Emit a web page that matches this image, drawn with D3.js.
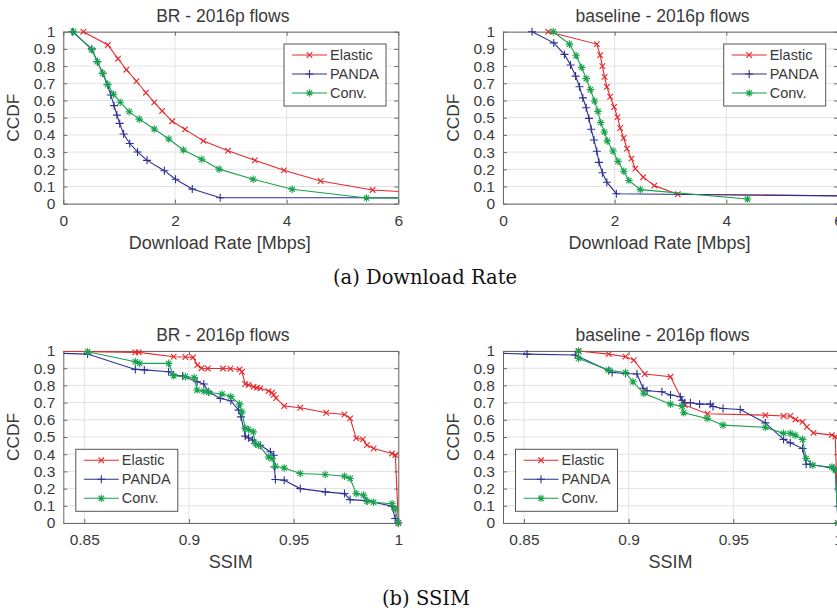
<!DOCTYPE html>
<html>
<head>
<meta charset="utf-8">
<script src="https://d3js.org/d3.v7.min.js"></script>
<style>
  body { margin: 0; background: #fff; }
  svg text { font-family: 'Liberation Sans', Arial, sans-serif; fill: #3a3a3a; }
  svg text.caption { font-family: 'DejaVu Serif', serif; fill: #111; }
</style>
<title>CCDF panels</title>
</head>
<body>
<svg id="fig" width="837" height="614"></svg>
<script>
// ---- tick labels ----
var ccdfTicks = [0, 0.1, 0.2, 0.3, 0.4, 0.5, 0.6, 0.7, 0.8, 0.9, 1];
var rateTicks = [0, 2, 4, 6];
var ssimTicks = [0.85, 0.9, 0.95, 1];

var seriesNames = ["Elastic", "PANDA", "Conv."];

// ---- download rate, BR (x = Mbps, y = CCDF) ----
var brRateElastic = [[0.36,1.0],[0.8,0.923],[0.98,0.843],[1.13,0.779],[1.31,0.712],[1.48,0.645],[1.63,0.589],
  [1.77,0.539],[1.95,0.479],[2.18,0.432],[2.51,0.365],[2.95,0.308],[3.43,0.252],[3.95,0.194],[4.61,0.132],
  [5.54,0.08],[7.0,0.052]];
var brRatePanda = [[0.16,1.0],[0.51,0.9],[0.61,0.826],[0.705,0.758],[0.79,0.692],[0.85,0.632],[0.91,0.57],
  [0.96,0.515],[1.01,0.467],[1.08,0.405],[1.19,0.35],[1.33,0.301],[1.5,0.252],[1.81,0.192],[2.01,0.142],
  [2.31,0.085],[2.81,0.035],[7.0,0.035]];
var brRateConv = [[0.18,1.0],[0.51,0.894],[0.61,0.826],[0.705,0.758],[0.795,0.694],[0.9,0.636],[1.02,0.59],
  [1.18,0.535],[1.36,0.492],[1.63,0.434],[1.89,0.376],[2.15,0.312],[2.48,0.258],[2.79,0.201],[3.4,0.142],
  [4.1,0.084],[5.43,0.033],[7.0,0.031]];

// ---- download rate, baseline ----
var baseRateElastic = [[0.81,1.0],[1.68,0.928],[1.74,0.864],[1.78,0.8],[1.82,0.737],[1.86,0.679],[1.92,0.622],
  [1.99,0.562],[2.05,0.503],[2.1,0.44],[2.16,0.382],[2.22,0.32],[2.3,0.262],[2.37,0.204],[2.51,0.154],
  [2.71,0.105],[3.13,0.055],[7.0,0.043]];
var baseRatePanda = [[0.52,1.0],[0.91,0.935],[1.1,0.868],[1.21,0.806],[1.3,0.742],[1.37,0.68],[1.43,0.615],
  [1.49,0.558],[1.54,0.496],[1.58,0.433],[1.63,0.37],[1.68,0.305],[1.72,0.24],[1.78,0.18],[1.86,0.125],
  [2.03,0.058],[7.0,0.042]];
var baseRateConv = [[0.9,1.0],[1.19,0.928],[1.31,0.86],[1.41,0.792],[1.49,0.727],[1.565,0.663],[1.64,0.597],
  [1.7,0.537],[1.75,0.472],[1.815,0.417],[1.867,0.365],[1.97,0.306],[2.06,0.246],[2.163,0.189],[2.255,0.135],
  [2.46,0.082],[4.38,0.027]];

// ---- SSIM, BR ----
var brSsimElastic = [[0.83,1.0],[0.8744,0.992],[0.876,0.992],[0.8927,0.967],[0.8983,0.965],[0.902,0.963],
  [0.904,0.918],[0.906,0.9],[0.909,0.898],[0.9163,0.898],[0.9198,0.897],[0.9242,0.893],[0.9253,0.879],
  [0.9269,0.808],[0.9285,0.803],[0.9309,0.792],[0.9325,0.787],[0.9341,0.783],[0.938,0.767],[0.9397,0.757],
  [0.9405,0.745],[0.9416,0.726],[0.9455,0.68],[0.9532,0.67],[0.9656,0.641],[0.9743,0.631],[0.977,0.608],
  [0.9799,0.492],[0.9831,0.486],[0.985,0.453],[0.9882,0.433],[0.997,0.404],[0.9986,0.395],[1.0,0]];
var brSsimPanda = [[0.83,0.99],[0.8516,0.982],[0.8744,0.893],[0.8787,0.89],[0.8903,0.879],[0.8927,0.86],
  [0.897,0.855],[0.9039,0.821],[0.9071,0.808],[0.9094,0.763],[0.915,0.724],[0.92,0.711],[0.9237,0.656],
  [0.9249,0.617],[0.9269,0.505],[0.9285,0.495],[0.9304,0.482],[0.9317,0.462],[0.9341,0.452],[0.9389,0.414],
  [0.9405,0.394],[0.9408,0.326],[0.9413,0.253],[0.9455,0.249],[0.9532,0.2],[0.9651,0.181],[0.9743,0.171],
  [0.977,0.136],[0.985,0.13],[0.997,0.097],[0.9985,0.026],[1.0,0]];
var brSsimConv = [[0.8516,0.996],[0.8744,0.938],[0.8765,0.928],[0.8903,0.928],[0.8927,0.856],[0.8983,0.851],
  [0.9025,0.845],[0.9039,0.773],[0.9071,0.767],[0.9094,0.759],[0.9158,0.75],[0.92,0.735],[0.9242,0.691],
  [0.9253,0.646],[0.9269,0.55],[0.9285,0.544],[0.9307,0.53],[0.9317,0.462],[0.9333,0.452],[0.938,0.384],
  [0.9397,0.375],[0.9413,0.33],[0.9455,0.32],[0.9532,0.288],[0.9651,0.282],[0.9743,0.272],[0.977,0.259],
  [0.9799,0.171],[0.9834,0.162],[0.985,0.127],[0.9882,0.121],[0.997,0.112],[0.9985,0.081],[1.0,0]];

// ---- SSIM, baseline ----
var baseSsimElastic = [[0.8761,1.0],[0.8905,0.982],[0.8985,0.967],[0.9025,0.947],[0.9077,0.866],[0.92,0.85],
  [0.9268,0.685],[0.9377,0.635],[0.9653,0.627],[0.974,0.622],[0.9772,0.622],[0.9797,0.602],[0.9831,0.588],
  [0.9851,0.559],[0.9883,0.524],[0.9971,0.511],[0.9987,0.502],[1.0,0]];
var baseSsimPanda = [[0.83,0.99],[0.8515,0.982],[0.8745,0.977],[0.8905,0.885],[0.8921,0.875],[0.8985,0.869],
  [0.904,0.866],[0.9069,0.783],[0.9088,0.769],[0.9159,0.763],[0.92,0.744],[0.9247,0.734],[0.9255,0.714],
  [0.9268,0.699],[0.9295,0.699],[0.9339,0.691],[0.939,0.691],[0.9403,0.677],[0.9451,0.666],[0.9533,0.66],
  [0.9653,0.582],[0.974,0.486],[0.9772,0.466],[0.9831,0.433],[0.9848,0.342],[0.9867,0.342],[0.9979,0.317],
  [0.9987,0.31],[1.0,0]];
var baseSsimConv = [[0.8761,1.0],[0.8761,0.957],[0.8905,0.889],[0.8985,0.874],[0.9021,0.821],[0.9072,0.754],
  [0.92,0.691],[0.9255,0.679],[0.9263,0.641],[0.9375,0.608],[0.9451,0.569],[0.9653,0.556],[0.974,0.521],
  [0.9772,0.521],[0.9795,0.511],[0.9831,0.486],[0.9848,0.375],[0.988,0.336],[0.9971,0.326],[0.9987,0.31],
  [1.0,0]];

var colors = ["#e8282b", "#2d3092", "#17a24c"];
var markers = ["x", "plus", "star"];

var svg = d3.select("#fig");

var panels = [
  { left: 63.3, top: 31.7, xDomain: [0, 6], xTicks: rateTicks, title: "BR - 2016p flows",
    xLabel: "Download Rate [Mbps]", labelDx: -11, data: [brRateElastic, brRatePanda, brRateConv],
    legend: "topright" },
  { left: 503, top: 31.7, xDomain: [0, 6], xTicks: rateTicks, title: "baseline - 2016p flows",
    xLabel: "Download Rate [Mbps]", labelDx: -11, data: [baseRateElastic, baseRatePanda, baseRateConv],
    legend: "topright" },
  { left: 63.3, top: 351, xDomain: [0.84, 1], xTicks: ssimTicks, title: "BR - 2016p flows",
    xLabel: "SSIM", labelDx: 0, data: [brSsimElastic, brSsimPanda, brSsimConv], legend: "bottomleft" },
  { left: 503, top: 351, xDomain: [0.84, 1], xTicks: ssimTicks, title: "baseline - 2016p flows",
    xLabel: "SSIM", labelDx: 0, data: [baseSsimElastic, baseSsimPanda, baseSsimConv], legend: "bottomleft" }
];

var plotW = 335, plotH = 172;

function drawMarker(sel, type, color) {
    var p = d3.path();
    if (type == "x") {
        var s = 2.8;
        p.moveTo(-s, -s); p.lineTo(s, s); p.moveTo(-s, s); p.lineTo(s, -s);
    } else if (type == "plus") {
        var s = 4;
        p.moveTo(-s, 0); p.lineTo(s, 0); p.moveTo(0, -s); p.lineTo(0, s);
    } else {
        var s = 3.8, t = 2.7;
        p.moveTo(-s, 0); p.lineTo(s, 0); p.moveTo(0, -s); p.lineTo(0, s);
        p.moveTo(-t, -t); p.lineTo(t, t); p.moveTo(-t, t); p.lineTo(t, -t);
    }
    sel.append("path")
        .attr("d", p.toString())
        .attr("fill", "none")
        .attr("stroke", color)
        .attr("stroke-width", 1.1);
}

panels.forEach(function (p, pi) {
    var g = svg.append("g").attr("transform", "translate(" + p.left + "," + p.top + ")");
    var x = d3.scaleLinear().domain(p.xDomain).range([0, plotW]);
    var y = d3.scaleLinear().domain([0, 1]).range([plotH, 0]);

    svg.append("clipPath").attr("id", "clip" + pi)
        .append("rect").attr("width", plotW).attr("height", plotH);

    // grid
    g.append("g").selectAll("line").data(p.xTicks).join("line")
        .attr("x1", x).attr("x2", x).attr("y1", 0).attr("y2", plotH)
        .attr("stroke", "#e2e2e2");
    g.append("g").selectAll("line").data(ccdfTicks).join("line")
        .attr("y1", y).attr("y2", y).attr("x1", 0).attr("x2", plotW)
        .attr("stroke", "#e2e2e2");

    // axes (box with inward ticks)
    g.append("g").attr("transform", "translate(0," + plotH + ")")
        .call(d3.axisBottom(x).tickValues(p.xTicks).tickSize(-4).tickSizeOuter(0).tickPadding(11)
            .tickFormat(function (d) { return d; }));
    g.append("g")
        .call(d3.axisLeft(y).tickValues(ccdfTicks).tickSize(-4).tickSizeOuter(0).tickPadding(8)
            .tickFormat(function (d) { return d; }));
    g.append("g")
        .call(d3.axisTop(x).tickValues(p.xTicks).tickSize(-4).tickSizeOuter(0).tickFormat(""));
    g.append("g").attr("transform", "translate(" + plotW + ",0)")
        .call(d3.axisRight(y).tickValues(ccdfTicks).tickSize(-4).tickSizeOuter(0).tickFormat(""));
    g.selectAll(".domain, .tick line").attr("stroke", "#6a6a6a");
    g.selectAll(".tick text")
        .style("font-size", "15.5px")
        .style("font-family", "'Liberation Sans', Arial, sans-serif")
        .attr("fill", "#3a3a3a");

    // series
    var line = d3.line().x(function (d) { return x(d[0]); }).y(function (d) { return y(d[1]); });
    p.data.forEach(function (pts, si) {
        g.append("path")
            .attr("clip-path", "url(#clip" + pi + ")")
            .attr("d", line(pts))
            .attr("fill", "none")
            .attr("stroke", colors[si])
            .attr("stroke-width", 1.1);
        var inside = pts.filter(function (d) {
            return d[0] >= p.xDomain[0] && d[0] <= p.xDomain[1];
        });
        g.append("g").selectAll("g").data(inside).join("g")
            .attr("transform", function (d) { return "translate(" + x(d[0]) + "," + y(d[1]) + ")"; })
            .each(function () { drawMarker(d3.select(this), markers[si], colors[si]); });
    });

    // legend
    var lw = 102, lh = 62;
    var lx = p.legend == "topright" ? plotW - 12.3 - lw : 12.5;
    var ly = p.legend == "topright" ? 12.3 : plotH - 11.7 - lh;
    var lg = g.append("g").attr("transform", "translate(" + lx + "," + ly + ")");
    lg.append("rect").attr("width", lw).attr("height", lh)
        .attr("fill", "#fff").attr("stroke", "#555").attr("stroke-width", 1);
    seriesNames.forEach(function (name, si) {
        var ry = 11 + si * 19;
        lg.append("line").attr("x1", 8).attr("x2", 43).attr("y1", ry).attr("y2", ry)
            .attr("stroke", colors[si]).attr("stroke-width", 1.1);
        var m = lg.append("g").attr("transform", "translate(25.5," + ry + ")");
        drawMarker(m, markers[si], colors[si]);
        lg.append("text").attr("x", 46).attr("y", ry + 5.2)
            .style("font-size", "14.5px").text(name);
    });

    // title and labels
    g.append("text").attr("x", plotW / 2 - 8).attr("y", -10)
        .attr("text-anchor", "middle").style("font-size", "17.5px").text(p.title);
    g.append("text").attr("x", plotW / 2 + p.labelDx).attr("y", plotH + 45)
        .attr("text-anchor", "middle").style("font-size", "18px").text(p.xLabel);
    g.append("text")
        .attr("transform", "translate(-44," + (plotH / 2) + ") rotate(-90)")
        .attr("text-anchor", "middle")
        .attr("textLength", 48).attr("lengthAdjust", "spacingAndGlyphs")
        .style("font-size", "17px").text("CCDF");
});

// captions
svg.append("text").attr("class", "caption").attr("x", 425).attr("y", 284)
    .attr("text-anchor", "middle").style("font-size", "19.5px").text("(a) Download Rate");
svg.append("text").attr("class", "caption").attr("x", 426).attr("y", 605)
    .attr("text-anchor", "middle").style("font-size", "19.5px").text("(b) SSIM");
</script>
</body>
</html>
